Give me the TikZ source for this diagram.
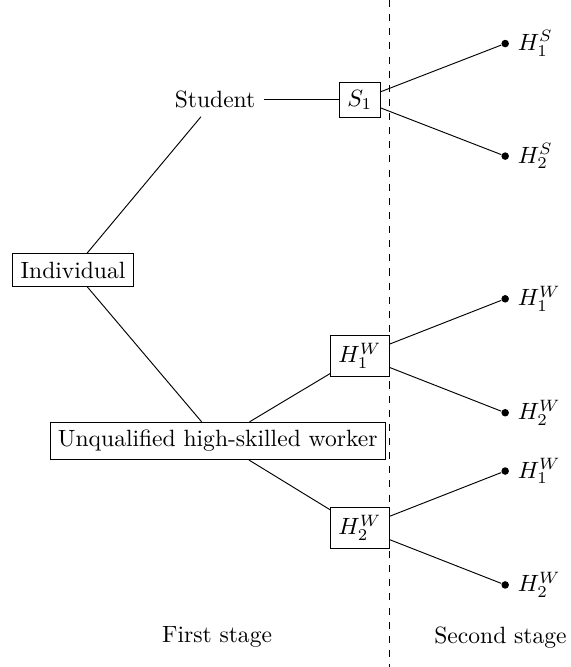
\documentclass[tikz,border=0pt]{standalone}
\usepackage{amsmath,amssymb}
\usepackage{tikz}
\usetikzlibrary{positioning}
\tikzstyle{choice} = [rectangle, draw=black, text centered]
\tikzstyle{plain} = [rectangle, text centered]
\tikzstyle{leaf} = [circle, fill=black, inner sep=0pt, minimum size=3.2pt]
\tikzstyle{line} = [draw]
\tikzstyle{divider} = [draw, dashed]

\begin{document}
\begin{tikzpicture}[node distance = 2.15cm]
    \useasboundingbox (-1.09,-5.925) rectangle (7.43,4.03);
    % Nodes
    \node [choice] (indiv) {Individual};
    \node [plain, right of=indiv, node distance=2.12cm, yshift=2.54cm] (student) {Student};
    \node [choice, right of=indiv, node distance=2.16cm, yshift=-2.55cm] (worker) {Unqualified high-skilled worker};
    \node [choice, right of=student, node distance=2.16cm] (s1) {$S_1$};
    \node [choice, right of=worker, node distance=2.12cm, yshift=1.27cm] (hw1) {$H^W_1$};
    \node [choice, right of=worker, node distance=2.12cm, yshift=-1.30cm] (hw2) {$H^W_2$};
    % Second stage outcomes
    \node [leaf, right of=s1, node distance=2.17cm, yshift=0.84cm, label=right:{$H^S_1$}] (s1a) {};
    \node [leaf, right of=s1, node distance=2.17cm, yshift=-0.84cm, label=right:{$H^S_2$}] (s1b) {};
    \node [leaf, right of=hw1, node distance=2.17cm, yshift=0.85cm, label=right:{$H^W_1$}] (hw1a) {};
    \node [leaf, right of=hw1, node distance=2.17cm, yshift=-0.85cm, label=right:{$H^W_2$}] (hw1b) {};
    \node [leaf, right of=hw2, node distance=2.17cm, yshift=0.85cm, label=right:{$H^W_1$}] (hw2a) {};
    \node [leaf, right of=hw2, node distance=2.17cm, yshift=-0.85cm, label=right:{$H^W_2$}] (hw2b) {};
    % Stages
    \coordinate (divtop) at (4.72,4.03);
    \coordinate (divbot) at (4.72,-5.925);
    \node [plain] (first) at (2.15,-5.48) {First stage};
    \node [plain] (second) at (6.38,-5.48) {Second stage};

    % Edges
    \path [line] (indiv) -- (student);
    \path [line] (indiv) -- (worker);
    \path [line] (student) -- (s1);
    \path [line] (worker) -- (hw1);
    \path [line] (worker) -- (hw2);
    \path [line] (s1) -- (s1a);
    \path [line] (s1) -- (s1b);
    \path [line] (hw1) -- (hw1a);
    \path [line] (hw1) -- (hw1b);
    \path [line] (hw2) -- (hw2a);
    \path [line] (hw2) -- (hw2b);
    \path [divider] (divtop) -- (divbot);
\end{tikzpicture}
\end{document}
